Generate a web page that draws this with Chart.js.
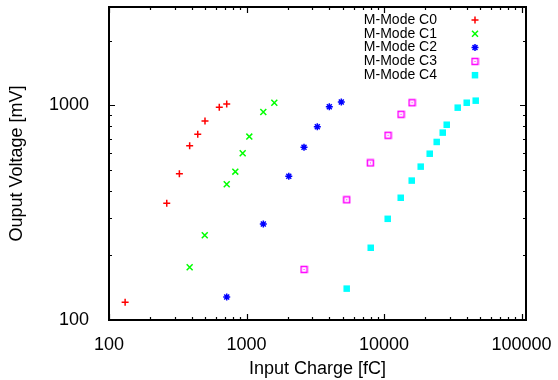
<!DOCTYPE html>
<html>
<head>
<meta charset="utf-8">
<script src="https://cdn.jsdelivr.net/npm/chart.js@4/dist/chart.umd.min.js"></script>
<style>
  html, body { margin: 0; padding: 0; background: #fff; }
  #wrap { width: 558px; height: 380px; }
</style>
</head>
<body>
<div id="wrap"><canvas id="chart" width="558" height="380"></canvas></div>
<script>
// series (input charge fC -> output voltage mV)
const seriesNames = ['M-Mode C0', 'M-Mode C1', 'M-Mode C2', 'M-Mode C3', 'M-Mode C4'];
const seriesColors = ['#ff0000', '#00ff00', '#0000ff', '#ff00ff', '#00ffff'];

const c0Charge = [131, 263, 325, 386, 442, 499, 634, 718];
const c0Volt   = [121, 350, 480, 648, 733, 845, 979, 1014];
const c1Charge = [386, 497, 718, 829, 938, 1048, 1325, 1593];
const c1Volt   = [176, 248, 429, 491, 598, 715, 931, 1028];
const c2Charge = [718, 1325, 2030, 2619, 3273, 4002, 4892];
const c2Volt   = [128, 280, 467, 638, 795, 985, 1036];
const c3Charge = [2619, 5354, 7952, 10693, 13293, 15980];
const c3Volt   = [172, 363, 539, 725, 908, 1028];
const c4Charge = [5354, 8006, 10640, 13229, 15905, 18490, 21500, 24170, 26730, 28580, 34360, 39950, 46440];
const c4Volt   = [140, 217, 296, 371, 446, 518, 595, 675, 746, 812, 975, 1028, 1051];

const xTickLabels = [100, 1000, 10000, 100000];
const yTickLabels = [100, 1000];

const xRange = [100, 107800];
const yRange = [100, 2870];

const FONT = 'Liberation Sans, Arial, Helvetica, sans-serif';

// open square with a dot in the middle (gnuplot pt 4)
function openSquare(color) {
  const c = document.createElement('canvas');
  c.width = 9; c.height = 9;
  const g = c.getContext('2d');
  g.strokeStyle = color;
  g.lineWidth = 1.5;
  g.strokeRect(1.5, 1.5, 6, 6);
  g.fillStyle = color;
  g.fillRect(4, 4, 1, 1);
  return c;
}

const markers = [
  { pointStyle: 'cross', radius: 3.5, borderWidth: 1.5 },
  { pointStyle: 'crossRot', radius: 4.2, borderWidth: 1.5 },
  { pointStyle: 'star', radius: 3.5, borderWidth: 1.5 },
  { pointStyle: openSquare(seriesColors[3]), radius: 4.5, borderWidth: 0 },
  { pointStyle: 'rect', radius: 4.6, borderWidth: 0 }
];

const charges = [c0Charge, c1Charge, c2Charge, c3Charge, c4Charge];
const volts = [c0Volt, c1Volt, c2Volt, c3Volt, c4Volt];

const datasets = seriesNames.map((name, i) => ({
  label: name,
  data: charges[i].map((q, k) => ({ x: q, y: volts[i][k] })),
  showLine: false,
  pointStyle: markers[i].pointStyle,
  pointRadius: markers[i].radius,
  pointHoverRadius: markers[i].radius,
  pointBorderWidth: markers[i].borderWidth,
  borderColor: seriesColors[i],
  backgroundColor: seriesColors[i]
}));

function logTicks(min, max) {
  const major = [], minor = [];
  for (let d = 1; d <= max; d *= 10) {
    for (let m = 1; m <= 9; m++) {
      const v = m * d;
      if (v < min || v > max) continue;
      (m === 1 ? major : minor).push(v);
    }
  }
  return { major, minor };
}

// gnuplot style frame: border, inward ticks on all sides, key inside top right
const framePlugin = {
  id: 'frame',
  afterDraw(chart) {
    const { ctx, chartArea: a, scales: { x, y } } = chart;
    ctx.save();
    ctx.strokeStyle = '#000';
    ctx.lineWidth = 1.2;
    const xt = logTicks(xRange[0], xRange[1]);
    const yt = logTicks(yRange[0], yRange[1]);
    ctx.beginPath();
    [[xt.major, 6], [xt.minor, 3]].forEach(([vals, len]) => {
      vals.forEach(v => {
        const px = Math.round(x.getPixelForValue(v)) + 0.5;
        ctx.moveTo(px, a.bottom); ctx.lineTo(px, a.bottom - len);
        ctx.moveTo(px, a.top); ctx.lineTo(px, a.top + len);
      });
    });
    [[yt.major, 6], [yt.minor, 3]].forEach(([vals, len]) => {
      vals.forEach(v => {
        const py = Math.round(y.getPixelForValue(v)) + 0.5;
        ctx.moveTo(a.left, py); ctx.lineTo(a.left + len, py);
        ctx.moveTo(a.right, py); ctx.lineTo(a.right - len, py);
      });
    });
    ctx.stroke();

    ctx.lineWidth = 2;
    ctx.strokeRect(a.left, a.top, a.right - a.left, a.bottom - a.top);

    // key
    ctx.font = '14px ' + FONT;
    ctx.textAlign = 'right';
    ctx.textBaseline = 'middle';
    seriesNames.forEach((name, i) => {
      const ty = a.top + 13 + i * 13.8;
      ctx.fillStyle = '#000';
      ctx.fillText(name, a.right - 89, ty);
      ctx.strokeStyle = seriesColors[i];
      ctx.fillStyle = seriesColors[i];
      ctx.lineWidth = markers[i].borderWidth;
      Chart.helpers.drawPoint(ctx, {
        pointStyle: markers[i].pointStyle,
        radius: markers[i].radius,
        rotation: 0,
        borderWidth: markers[i].borderWidth
      }, a.right - 51, ty);
    });
    ctx.restore();
  }
};

new Chart(document.getElementById('chart'), {
  type: 'scatter',
  data: { datasets },
  plugins: [framePlugin],
  options: {
    responsive: false,
    animation: false,
    devicePixelRatio: 1,
    layout: { padding: { top: 7, right: 32, left: 0, bottom: 0 } },
    plugins: { legend: { display: false }, tooltip: { enabled: false } },
    scales: {
      x: {
        type: 'logarithmic',
        min: xRange[0],
        max: xRange[1],
        afterBuildTicks: s => { s.ticks = xTickLabels.map(v => ({ value: v })); },
        afterFit: s => { s.height = 60; s.paddingLeft = 0; s.paddingRight = 0; },
        grid: { display: false },
        border: { display: false },
        ticks: {
          color: '#000',
          font: { family: FONT, size: 18 },
          padding: 6,
          maxRotation: 0,
          autoSkip: false,
          callback: v => String(v)
        },
        title: {
          display: true,
          text: 'Input Charge [fC]',
          color: '#000',
          font: { family: FONT, size: 18 },
          padding: { top: 0, bottom: 0 }
        }
      },
      y: {
        type: 'logarithmic',
        min: yRange[0],
        max: yRange[1],
        afterBuildTicks: s => { s.ticks = yTickLabels.map(v => ({ value: v })); },
        afterFit: s => { s.width = 109; s.paddingTop = 0; s.paddingBottom = 0; },
        grid: { display: false },
        border: { display: false },
        ticks: {
          color: '#000',
          font: { family: FONT, size: 18 },
          padding: 12,
          autoSkip: false,
          callback: v => String(v)
        },
        title: {
          display: true,
          text: 'Ouput Voltage [mV]',
          color: '#000',
          font: { family: FONT, size: 18 },
          padding: { top: 6, bottom: 0 }
        }
      }
    }
  }
});
</script>
</body>
</html>
